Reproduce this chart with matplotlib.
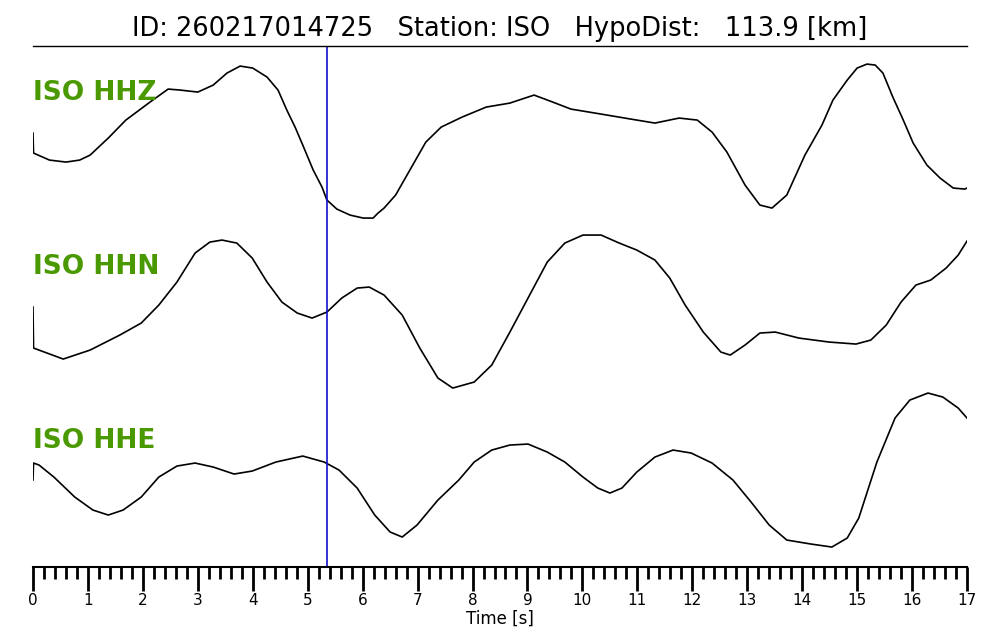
import matplotlib
matplotlib.use("Agg")
import matplotlib.pyplot as plt
from matplotlib.ticker import MultipleLocator

event_id = "260217014725"
station = "ISO"
hypo_dist = 113.9
pick_time = 5.35

channels = ["HHZ", "HHN", "HHE"]

# samples (time [s], amplitude in arbitrary counts)
t_z = [0.0, 0.01, 0.3, 0.6, 0.85, 1.04, 1.37, 1.69, 2.13, 2.46, 2.68, 3.0, 3.28, 3.53,
       3.77, 4.0, 4.26, 4.46, 4.62, 4.77, 4.91, 5.1, 5.26, 5.35, 5.53, 5.77, 6.01, 6.19,
       6.28, 6.39, 6.6, 6.88, 7.15, 7.43, 7.81, 8.25, 8.68, 9.12, 9.46, 9.79, 10.34,
       10.88, 11.32, 11.76, 12.09, 12.36, 12.63, 12.96, 13.23, 13.45, 13.72, 14.05,
       14.36, 14.56, 14.82, 15.0, 15.18, 15.33, 15.47, 15.65, 15.84, 16.02, 16.27,
       16.51, 16.75, 16.96, 17.0]
a_z = [7, -13, -20, -22, -20, -15, 2, 20, 38, 51, 50, 48, 55, 67, 74, 72, 63, 50, 30, 13,
       -5, -30, -47, -60, -69, -75, -78, -78, -73, -68, -55, -28, -2, 13, 23, 33, 37, 45,
       38, 31, 26, 21, 17, 22, 20, 8, -12, -45, -65, -68, -55, -15, 15, 40, 60, 72, 76,
       75, 67, 43, 20, -3, -25, -38, -48, -49, -48]

t_n = [0.0, 0.01, 0.55, 1.04, 1.58, 1.97, 2.29, 2.62, 2.95, 3.22, 3.44, 3.71, 3.99, 4.26,
       4.53, 4.81, 5.08, 5.35, 5.62, 5.9, 6.12, 6.39, 6.72, 7.04, 7.37, 7.64, 8.03, 8.35,
       8.68, 9.01, 9.36, 9.68, 10.01, 10.34, 10.67, 10.99, 11.32, 11.59, 11.87, 12.2,
       12.52, 12.69, 12.96, 13.23, 13.51, 13.94, 14.49, 14.98, 15.25, 15.53, 15.8, 16.07,
       16.34, 16.62, 16.84, 17.0]
a_n = [7, -34, -45, -36, -21, -9, 9, 32, 61, 72, 74, 71, 56, 32, 12, 1, -4, 2, 16, 26,
       27, 19, -1, -34, -64, -74, -68, -51, -18, 16, 52, 71, 79, 79, 71, 64, 54, 36, 9,
       -18, -38, -41, -31, -19, -18, -24, -28, -30, -26, -11, 12, 29, 34, 46, 59, 73]

t_e = [0.0, 0.01, 0.11, 0.38, 0.76, 1.09, 1.37, 1.64, 1.97, 2.29, 2.62, 2.95, 3.28, 3.66,
       3.99, 4.42, 4.91, 5.3, 5.57, 5.9, 6.22, 6.5, 6.72, 6.99, 7.37, 7.75, 8.03, 8.35,
       8.68, 9.01, 9.36, 9.68, 10.01, 10.28, 10.5, 10.72, 10.99, 11.32, 11.65, 11.98,
       12.36, 12.74, 13.07, 13.4, 13.72, 14.16, 14.54, 14.82, 15.03, 15.36, 15.69, 15.96,
       16.29, 16.56, 16.84, 17.0]
a_e = [8, 25, 23, 11, -9, -22, -27, -22, -9, 11, 22, 25, 21, 14, 17, 26, 32, 26, 18, 0,
       -27, -44, -49, -37, -12, 8, 26, 38, 43, 44, 36, 26, 11, 0, -5, 0, 16, 31, 38, 35,
       25, 8, -14, -37, -52, -56, -59, -50, -30, 26, 70, 88, 95, 91, 80, 70]

times = [t_z, t_n, t_e]
amps = [a_z, a_n, a_e]

spacing = 174
label_green = "#4a9900"

fig = plt.figure(figsize=(10, 6.4), dpi=100)
ax = fig.add_axes([0.033, 0.114, 0.934, 0.814])

for k in range(len(channels)):
    off = -k * spacing
    ax.plot(times[k], [a + off for a in amps[k]], color="black", lw=1.2)
    ax.text(0.0, off + 40, "%s %s" % (station, channels[k]), color=label_green,
            fontsize=19, fontweight="bold", ha="left", va="baseline")

ax.axvline(pick_time, color="#1010cc", lw=1.2)

ax.set_xlim(0, 17)
ax.set_ylim(-427, 94)
ax.set_yticks([])
ax.spines["left"].set_visible(False)
ax.spines["right"].set_visible(False)
ax.spines["top"].set_linewidth(1.0)
ax.spines["bottom"].set_linewidth(1.5)

ax.xaxis.set_major_locator(MultipleLocator(1))
ax.xaxis.set_minor_locator(MultipleLocator(0.2))
ax.tick_params(axis="x", which="major", direction="out", length=17, width=2.0,
               labelsize=11, pad=2)
ax.tick_params(axis="x", which="minor", direction="out", length=8.5, width=2.0)
ax.set_xlabel("Time [s]", fontsize=12, labelpad=1)

ax.set_title("ID: %s   Station: %s   HypoDist:   %.1f [km]" % (event_id, station, hypo_dist),
             fontsize=18.5, pad=7)

fig.savefig("out.png", dpi=100)
